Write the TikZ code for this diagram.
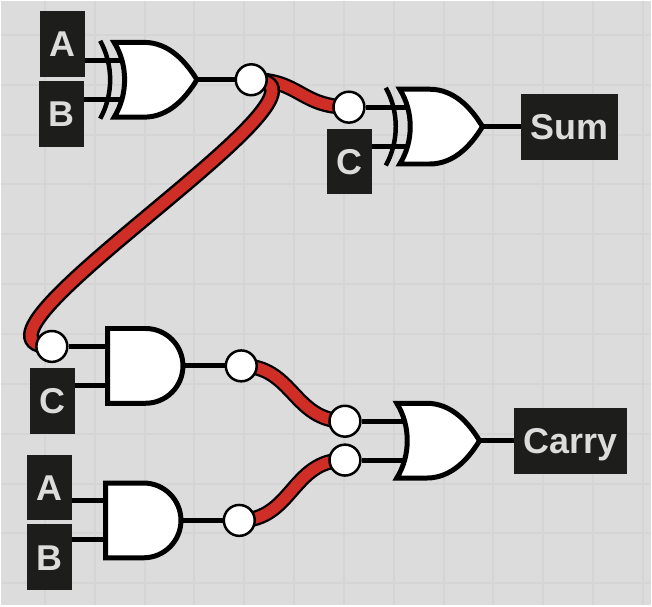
\documentclass[tikz,border=0pt]{standalone}
\usepackage{fontspec}
\setmainfont{Liberation Sans}
\usetikzlibrary{calc}

\definecolor{boardgrey}{HTML}{DCDCDC}
\definecolor{gridgrey}{HTML}{D5D5D5}
\definecolor{labelblack}{HTML}{1D1D1B}
\definecolor{wirered}{HTML}{CF2E26}

\pgfdeclarelayer{gridlayer}
\pgfdeclarelayer{wirelayer}
\pgfsetlayers{gridlayer,wirelayer,main}

\tikzset{
    x=1pt, y=-1pt,
    gridline/.style={draw=gridgrey, line width=2pt},
    lbl/.style={fill=labelblack, text=boardgrey, minimum height=66pt, inner xsep=9.5pt, inner ysep=0pt,
        text height=26pt, text depth=0pt, font=\fontsize{36}{40}\selectfont\bfseries},
    joint/.style={circle, draw=black, fill=white, line width=2.5pt, minimum size=31pt, inner sep=0pt},
    wire/.style={draw=black, line width=5pt},
    redwire/.style={draw=black, double=wirered, line width=2.3pt, double distance=11pt},
    bigredwire/.style={draw=black, double=wirered, line width=2.5pt, double distance=11pt},
    gatebody/.style={draw=black, fill=white, line width=5pt, line join=miter},
    orgate/.pic={
        \path[gatebody] (0,-37.5) -- (30,-37.5) .. controls (55,-37.5) and (72,-18) .. (83,0)
            .. controls (72,18) and (55,37.5) .. (30,37.5) -- (0,37.5)
            .. controls (14,15) and (14,-15) .. (0,-37.5) -- cycle;
        \coordinate (-in1) at (8,-19.5);
        \coordinate (-in2) at (8,19.5);
        \coordinate (-out) at (80,0);
    },
    xorgate/.pic={
        \path[gatebody] (0,-37.5) -- (30,-37.5) .. controls (55,-37.5) and (72,-18) .. (83,0)
            .. controls (72,18) and (55,37.5) .. (30,37.5) -- (0,37.5)
            .. controls (14,15) and (14,-15) .. (0,-37.5) -- cycle;
        \draw[black, line width=4.5pt] (-14,-39) .. controls (-0.7,-15) and (-0.7,15) .. (-14,39);
        \coordinate (-in1) at (8,-19.5);
        \coordinate (-in2) at (8,19.5);
        \coordinate (-out) at (80,0);
    },
    andgate/.pic={
        \path[gatebody] (0,-37.5) -- (38,-37.5) .. controls (58.7,-37.5) and (75.5,-20.7) .. (75.5,0)
            .. controls (75.5,20.7) and (58.7,37.5) .. (38,37.5) -- (0,37.5) -- cycle;
        \coordinate (-in1) at (2,-19.5);
        \coordinate (-in2) at (2,19.5);
        \coordinate (-out) at (73,0);
    },
}

\begin{document}
\begin{tikzpicture}
    \begin{pgfonlayer}{gridlayer}
        \fill[boardgrey] (0,0) rectangle (652,606);
        \foreach \gx in {44,94,...,644} {
            \draw[gridline] (\gx,0) -- (\gx,606);
        }
        \foreach \gy in {34,84,...,584} {
            \draw[gridline] (0,\gy) -- (652,\gy);
        }
    \end{pgfonlayer}
    \useasboundingbox (0,0) rectangle (652,606);

    % gates
    \pic (xorab) at (113.5,79) {xorgate};
    \pic (xorsum) at (400,126) {xorgate};
    \pic (andc) at (107,366) {andgate};
    \pic (andab) at (105,521) {andgate};
    \pic (orcarry) at (397,441) {orgate};

    % labels
    \node[lbl] (topa) at (61.5,43) {A};
    \node[lbl] (topb) at (61,113) {B};
    \node[lbl] (sumc) at (349.5,161) {C};
    \node[lbl] (sumout) at (570.5,126) {Sum};
    \node[lbl] (andcc) at (51.5,401) {C};
    \node[lbl] (lowa) at (48.5,488) {A};
    \node[lbl] (lowb) at (48.5,558) {B};
    \node[lbl] (carryout) at (571,441) {Carry};

    % joints
    \node[joint] (jab) at (251,79) {};
    \node[joint] (jsum) at (349,106.5) {};
    \node[joint] (jc) at (51,346.5) {};
    \node[joint] (jand) at (241,366) {};
    \node[joint] (jcarrya) at (345,421.5) {};
    \node[joint] (jcarryb) at (345,460.5) {};
    \node[joint] (jlow) at (239,521) {};

    \begin{pgfonlayer}{wirelayer}
        \draw[wire] (xorab-in1) -- (xorab-in1 -| topa);
        \draw[wire] (xorab-in2) -- (xorab-in2 -| topb);
        \draw[wire] (xorab-out) -- (jab);
        \draw[wire] (jsum) -- (xorsum-in1);
        \draw[wire] (xorsum-in2) -- (xorsum-in2 -| sumc);
        \draw[wire] (xorsum-out) -- (sumout);
        \draw[wire] (jc) -- (andc-in1);
        \draw[wire] (andc-in2) -- (andc-in2 -| andcc);
        \draw[wire] (andc-out) -- (jand);
        \draw[wire] (andab-in1) -- (andab-in1 -| lowa);
        \draw[wire] (andab-in2) -- (andab-in2 -| lowb);
        \draw[wire] (andab-out) -- (jlow);
        \draw[wire] (jcarrya) -- (orcarry-in1);
        \draw[wire] (jcarryb) -- (orcarry-in2);
        \draw[wire] (orcarry-out) -- (carryout);

        % red wires
        \draw[redwire] (jab.center) .. controls (300,79) and (300,106) .. (jsum.center);
        \draw[bigredwire] (jab.center) .. controls (371,79) and (-69,346) .. (jc.center);
        \draw[redwire] (jand.center) .. controls (293,366) and (293,421) .. (jcarrya.center);
        \draw[redwire] (jlow.center) .. controls (292,521) and (292,460) .. (jcarryb.center);
    \end{pgfonlayer}
\end{tikzpicture}
\end{document}
